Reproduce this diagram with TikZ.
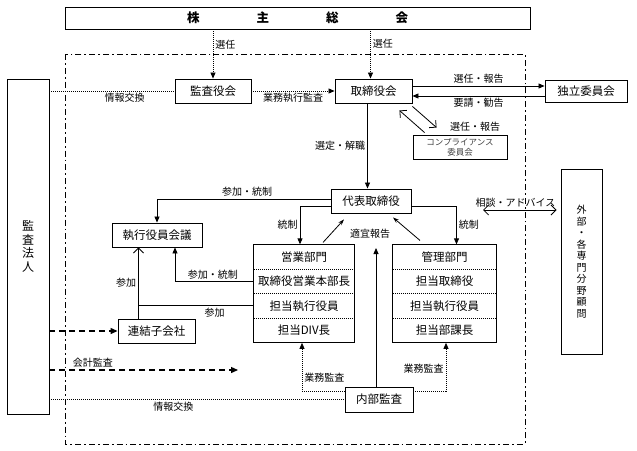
\documentclass[tikz,border=0pt]{standalone}
\usepackage{fontspec}
\setmainfont{Noto Sans CJK JP}
\usepackage{tikz}
\usetikzlibrary{arrows.meta,calc,positioning,fit}
\tikzset{
  box/.style={draw,line width=0.9pt,inner sep=0pt,font=\fontsize{11.5}{13}\selectfont},
  row/.style={minimum width=100pt,minimum height=24pt,inner sep=0pt,font=\fontsize{11.5}{13}\selectfont},
  lab/.style={font=\fontsize{10}{11}\selectfont,inner sep=2pt},
  arr/.style={line width=0.8pt,-{Triangle[length=6pt,width=5pt]}},
  sarr/.style={line width=0.8pt,-{Stealth[length=6pt,width=4pt]}},
  barb/.style={line width=0.8pt,-{Straight Barb[length=5pt,width=10pt]}},
  dotl/.style={line width=0.8pt,dash pattern=on 1pt off 1pt},
  dotarr/.style={dotl,-{Triangle[length=6pt,width=5pt]}},
  dasharr/.style={line width=1.3pt,dash pattern=on 6pt off 4pt,-{Triangle[length=7pt,width=6pt]}},
}

\begin{document}
\begin{tikzpicture}[x=1pt,y=-1pt]
\useasboundingbox (0,0) rectangle (637,450);
\draw[line width=1pt,dash pattern=on 6pt off 3pt on 1.8pt off 3pt] (65,54) rectangle (525,444);
\node[box,minimum width=465pt,minimum height=22pt,font=\fontsize{12.5}{14}\selectfont\bfseries] (GM) at (297.5,18) {株\hspace{57pt}主\hspace{57pt}総\hspace{57pt}会};
\node[box,minimum width=76pt,minimum height=24pt] (KAN) at (213,91) {監査役会};
\node[box,minimum width=77pt,minimum height=24pt] (TB) at (373.5,91) {取締役会};
\node[box,minimum width=82pt,minimum height=22pt] (IND) at (586,91) {独立委員会};
\node[box,minimum width=94pt,minimum height=24pt,font=\fontsize{8.5}{10}\selectfont,text=black!75,align=center] (COMP) at (460,147) {コンプライアンス\\委員会};
\node[box,minimum width=80pt,minimum height=24pt] (REP) at (371,201) {代表取締役};
\node[box,minimum width=90pt,minimum height=24pt] (EXM) at (157,235) {執行役員会議};
\node[row] (E1) at (304,257) {営業部門};
\node[row,below=0pt of E1] (E2) {取締役営業本部長};
\node[row,below=0pt of E2] (E3) {担当執行役員};
\node[row,below=0pt of E3] (E4) {担当DIV長};
\node[draw,line width=0.9pt,inner sep=0pt,fit=(E1)(E4)] (EG) {};
\node[row,minimum width=103pt] (M1) at (444.5,257) {管理部門};
\node[row,minimum width=103pt,below=0pt of M1] (M2) {担当取締役};
\node[row,minimum width=103pt,below=0pt of M2] (M3) {担当執行役員};
\node[row,minimum width=103pt,below=0pt of M3] (M4) {担当部課長};
\node[draw,line width=0.9pt,inner sep=0pt,fit=(M1)(M4)] (MG) {};
\foreach \r in {E1,E2,E3,M1,M2,M3}
  \draw[dotl] (\r.south west) -- (\r.south east);
\node[box,minimum width=77pt,minimum height=24pt] (SUB) at (156.5,331) {連結子会社};
\node[box,minimum width=68pt,minimum height=25pt] (IA) at (379,399.5) {内部監査};
\node[box,minimum width=42pt,minimum height=335pt,align=center,font=\fontsize{12}{13.5}\selectfont] (AUD) at (28,246.5) {監\\査\\法\\人};
\node[box,minimum width=41pt,minimum height=185pt,align=center,font=\fontsize{10}{11.5}\selectfont] (EXT) at (581.5,261.5) {外\\部\\・\\各\\専\\門\\分\\野\\顧\\問};

\draw[dotarr] (GM.south -| KAN.north) -- (KAN.north) node[lab,pos=0.32,right]{選任};
\draw[dotarr] ([xshift=-3pt]GM.south -| TB.north) -- ([xshift=-3pt]TB.north) node[lab,pos=0.3,right]{選任};
\draw[dotl] (AUD.east |- KAN.west) -- (KAN.west) node[lab,pos=0.6,below]{情報交換};
\draw[dotarr] (KAN) -- (TB) node[lab,midway,below]{業務執行監査};
\draw[arr] ([yshift=5pt]TB.east) -- ([yshift=5pt]TB.east -| IND.west) node[lab,midway,above]{選任・報告};
\draw[arr] ([yshift=-5pt]IND.west) -- ([yshift=-5pt]IND.west -| TB.east) node[lab,midway,below]{要請・勧告};
\draw[barb] ($(TB.south east)+(0,3)$) -- ($(COMP.north west)+(24,-7)$);
\draw[barb] ($(COMP.north west)+(12,-2)$) -- ($(TB.south east)+(-13,7)$);
\node[lab] (CL) at (475,127) {選任・報告};
\draw[arr] ([xshift=-6pt]TB.south) -- ([xshift=-6pt]TB.south |- REP.north) node[lab,midway,left]{選定・解職};
\draw[arr] ([yshift=2pt]REP.west) -| (EXM.north) node[lab,pos=0.24,above]{参加・統制};
\draw[arr] ([yshift=-5pt]REP.west) -| ([xshift=-4pt]EG.north) node[lab,pos=0.75,left]{統制};
\draw[arr] ([yshift=-5pt]REP.east) -| ([xshift=12pt]MG.north) node[lab,pos=0.75,right]{統制};
\draw[sarr] ($(REP.south)+(-48,29)$) -- ($(REP.south)+(-27,6)$);
\draw[sarr] ($(REP.south)+(49,27)$) -- ($(REP.south)+(22,4)$);
\coordinate (RP) at (376,248);
\draw[arr] (IA.north -| RP) -- (RP);
\node[lab] (RPL) at (370,234) {適宜報告};
\coordinate (ADV) at (483,210);
\draw[barb,{Straight Barb[length=5pt,width=10pt]}-{Straight Barb[length=5pt,width=10pt]},shorten >=4pt] (ADV) -- (ADV -| EXT.west) node[lab,pos=0.42,above]{相談・アドバイス};
\coordinate (SJ) at ([xshift=-18pt]SUB.north);
\draw[barb] (SJ) -- (SJ |- EXM.south) node[lab,midway,left]{参加};
\draw[line width=0.8pt] (E3.west) -- (E3.west -| SJ) node[lab,pos=0.34,below]{参加};
\draw[arr] (E2.west) -| ([xshift=18pt]EXM.south) node[lab,pos=0.26,above]{参加・統制};
\draw[dasharr] (AUD.east |- SUB.west) -- (SUB.west);
\coordinate (ACC) at (238,370);
\draw[dasharr] (AUD.east |- ACC) -- (ACC) node[lab,pos=0.23,above]{会計監査};
\draw[dotl] (AUD.east |- IA.west) -- (IA.west) node[lab,pos=0.42,below]{情報交換};
\draw[dotarr] ([yshift=8pt]IA.west) -| ([xshift=-2pt]EG.south) node[lab,pos=0.64,right]{業務監査};
\draw[dotarr] ([yshift=8pt]IA.east) -| ([xshift=1.5pt]MG.south) node[lab,pos=0.73,left]{業務監査};
\end{tikzpicture}
\end{document}
